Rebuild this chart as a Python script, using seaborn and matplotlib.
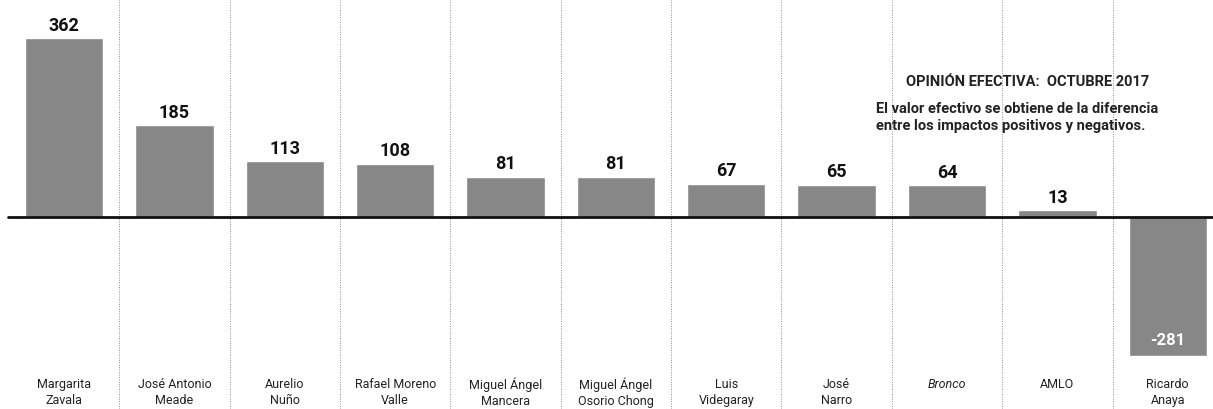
import matplotlib
matplotlib.use("Agg")
import matplotlib.pyplot as plt
import seaborn as sns
import pandas as pd

names = ['Margarita\nZavala', 'José Antonio\nMeade', 'Aurelio\nNuño', 'Rafael Moreno\nValle',
         'Miguel Ángel\nMancera', 'Miguel Ángel\nOsorio Chong', 'Luis\nVidegaray', 'José\nNarro',
         'Bronco', 'AMLO', 'Ricardo\nAnaya']
values = [362, 185, 113, 108, 81, 81, 67, 65, 64, 13, -281]

df = pd.DataFrame({'name': names, 'value': values})

sns.set_style('white')
plt.rcParams['font.family'] = ['Roboto', 'DejaVu Sans']

fig = plt.figure(figsize=(12.13, 4.09), dpi=100)
ax = fig.add_axes([0, 0, 1, 1])

sns.barplot(data=df, x='name', y='value', color='#878787', saturation=1, width=0.71, ax=ax)

ax.set_xlim(-0.58, 10.41)
ax.set_ylim(-389, 439)

# dotted dividers between candidates
for i in range(len(names) - 1):
    ax.axvline(i + 0.5, color='#8a8a8a', lw=0.7, ls=(0, (1, 1.5)), zorder=0)

# zero line
ax.axhline(0, xmin=0.007, color='#111111', lw=2, zorder=3)

for i, (n, v) in enumerate(zip(names, values)):
    if v >= 0:
        ax.text(i, v + 7, str(v), ha='center', va='bottom', fontsize=13,
                fontweight='bold', color='#111111')
    else:
        ax.text(i, v + 16, str(v), ha='center', va='bottom', fontsize=12,
                fontweight='bold', color='white')
    ax.text(i, -326, n, ha='center', va='top', fontsize=9, color='#222222',
            linespacing=1.3, style='italic' if n == 'Bronco' else 'normal')

ax.text(8.73, 273, 'OPINIÓN EFECTIVA:  OCTUBRE 2017', ha='center', va='center',
        fontsize=10.5, fontweight='bold', color='#222222')
ax.text(7.36, 201, 'El valor efectivo se obtiene de la diferencia\nentre los impactos positivos y negativos.',
        ha='left', va='center', fontsize=10.5, fontweight='bold', color='#222222',
        linespacing=1.35)

ax.set_xlabel('')
ax.set_ylabel('')
ax.set_xticks([])
ax.set_yticks([])
sns.despine(ax=ax, left=True, bottom=True)

fig.savefig('out.png', dpi=100)
